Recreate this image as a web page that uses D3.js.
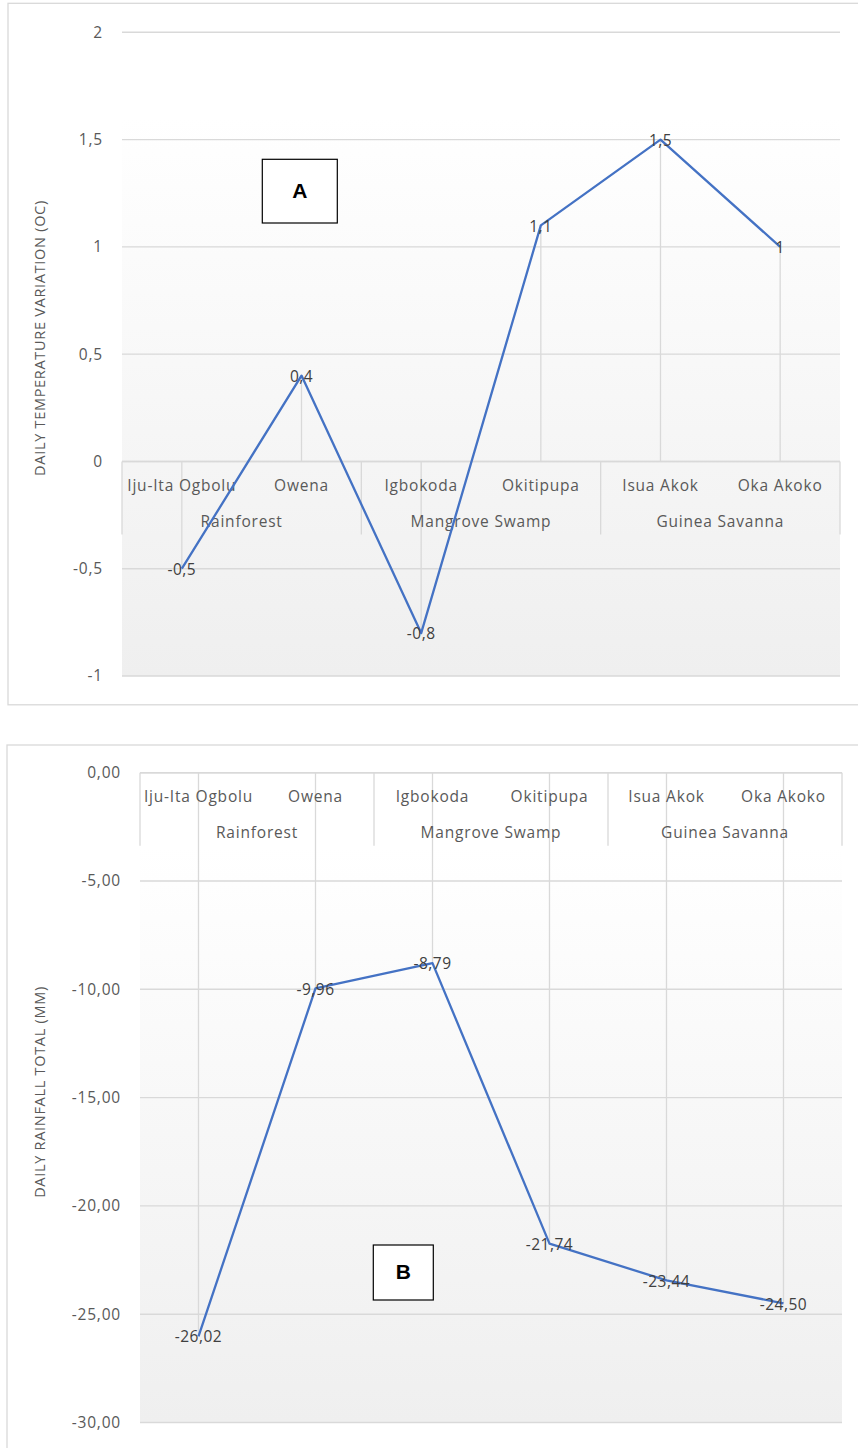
<!DOCTYPE html>
<html>
<head>
<meta charset="utf-8">
<script src="https://cdn.jsdelivr.net/npm/d3@7"></script>
<style>
  html, body { margin: 0; padding: 0; background: #ffffff; }
  svg { display: block; }
</style>
</head>
<body>
<svg id="chart" width="858" height="1448"></svg>
<script>
// ---------- DATA ----------
const categories = ["Iju-Ita Ogbolu", "Owena", "Igbokoda", "Okitipupa", "Isua Akok", "Oka Akoko"];
const groups = ["Rainforest", "Mangrove Swamp", "Guinea Savanna"];
const groupSizes = [2, 2, 2];

const tempValues = [-0.5, 0.4, -0.8, 1.1, 1.5, 1];
const tempTicks = [-1, -0.5, 0, 0.5, 1, 1.5, 2];
const tempTitle = "DAILY TEMPERATURE VARIATION (OC)";
const tempPanelLabel = "A";

const rainValues = [-26.02, -9.96, -8.79, -21.74, -23.44, -24.50];
const rainTicks = [0, -5, -10, -15, -20, -25, -30];
const rainTitle = "DAILY RAINFALL TOTAL (MM)";
const rainPanelLabel = "B";

// ---------- HELPERS ----------
const locale = d3.formatLocale({decimal: ",", thousands: ".", grouping: [3], currency: ["", ""], minus: "-"});
const fmtTemp = locale.format(".2~f");
const fmtRain = locale.format(".2f");

const svg = d3.select("#chart");
const defs = svg.append("defs");
const FONT = "'Open Sans', 'DejaVu Sans', sans-serif";
const GRID = "#d9d9d9";
const LINE = "#4472c4";
const LS = "0.8px";

function gradient(id) {
  const g = defs.append("linearGradient").attr("id", id)
    .attr("x1", 0).attr("y1", 0).attr("x2", 0).attr("y2", 1);
  g.append("stop").attr("offset", "0%").attr("stop-color", "#ffffff");
  g.append("stop").attr("offset", "100%").attr("stop-color", "#efefef");
}
gradient("gA");
gradient("gB");

function panel(cfg) {
  const g = svg.append("g");
  // outer chart border
  g.append("rect")
    .attr("x", cfg.border[0]).attr("y", cfg.border[1])
    .attr("width", cfg.border[2]).attr("height", cfg.border[3])
    .attr("fill", "none").attr("stroke", GRID).attr("stroke-width", 1.3);

  const x = d3.scaleBand().domain(categories).range([cfg.left, cfg.right]);
  const y = d3.scaleLinear().domain(cfg.domain).range([cfg.bottom, cfg.top]);
  const y0 = y(0);

  // plot background gradient
  g.append("rect")
    .attr("x", cfg.left).attr("y", cfg.gradTop)
    .attr("width", cfg.right - cfg.left).attr("height", y(cfg.domain[0]) - cfg.gradTop)
    .attr("fill", "url(#" + cfg.gradId + ")");

  // horizontal gridlines
  g.append("g").selectAll("line").data(cfg.ticks).join("line")
    .attr("x1", cfg.left).attr("x2", cfg.right)
    .attr("y1", d => y(d)).attr("y2", d => y(d))
    .attr("stroke", GRID).attr("stroke-width", 1.4);

  // y axis tick labels via d3 axis
  const axis = d3.axisLeft(y).tickValues(cfg.ticks).tickFormat(cfg.fmt).tickSize(0).tickPadding(19);
  const ag = g.append("g").attr("transform", `translate(${cfg.left},0)`).call(axis);
  ag.select(".domain").remove();
  ag.selectAll("text").attr("font-family", FONT).attr("font-size", 15.5)
    .attr("letter-spacing", LS).attr("fill", "#595959");

  // y axis title
  g.append("text")
    .attr("transform", `translate(${cfg.titleX},${cfg.titleY}) rotate(-90)`)
    .attr("text-anchor", "middle").attr("dominant-baseline", "middle")
    .attr("font-family", FONT).attr("font-size", 14.5).attr("letter-spacing", "0.7px")
    .attr("fill", "#595959")
    .text(cfg.title);

  const cx = d => x(d) + x.bandwidth() / 2;

  // drop lines from points to the category axis
  g.append("g").selectAll("line").data(cfg.values).join("line")
    .attr("x1", (d, i) => cx(categories[i])).attr("x2", (d, i) => cx(categories[i]))
    .attr("y1", d => y(d)).attr("y2", y0)
    .attr("stroke", GRID).attr("stroke-width", 1.3);

  // multi-level category axis box
  const boxH = 73;
  let start = 0;
  const bounds = [cfg.left];
  groupSizes.forEach(n => { start += n; bounds.push(x.range()[0] + start * x.step()); });
  g.append("g").selectAll("line").data(bounds).join("line")
    .attr("x1", d => d).attr("x2", d => d)
    .attr("y1", y0).attr("y2", y0 + boxH)
    .attr("stroke", GRID).attr("stroke-width", 1.3);
  g.append("line").attr("x1", cfg.left).attr("x2", cfg.right)
    .attr("y1", y0).attr("y2", y0).attr("stroke", GRID).attr("stroke-width", 1.4);

  g.append("g").selectAll("text").data(categories).join("text")
    .attr("x", d => cx(d)).attr("y", y0 + 25)
    .attr("text-anchor", "middle").attr("dominant-baseline", "middle")
    .attr("font-family", FONT).attr("font-size", 15.5).attr("letter-spacing", LS)
    .attr("fill", "#595959")
    .text(d => d);
  g.append("g").selectAll("text").data(groups).join("text")
    .attr("x", (d, i) => (bounds[i] + bounds[i + 1]) / 2).attr("y", y0 + 61)
    .attr("text-anchor", "middle").attr("dominant-baseline", "middle")
    .attr("font-family", FONT).attr("font-size", 15.5).attr("letter-spacing", LS)
    .attr("fill", "#595959")
    .text(d => d);

  // data line
  const line = d3.line().x((d, i) => cx(categories[i])).y(d => y(d));
  g.append("path").datum(cfg.values).attr("d", line)
    .attr("fill", "none").attr("stroke", LINE).attr("stroke-width", 2.3)
    .attr("stroke-linejoin", "round");

  // data labels
  g.append("g").selectAll("text").data(cfg.values).join("text")
    .attr("x", (d, i) => cx(categories[i])).attr("y", d => y(d) + 2)
    .attr("text-anchor", "middle").attr("dominant-baseline", "middle")
    .attr("font-family", FONT).attr("font-size", 15.5).attr("letter-spacing", "0.5px")
    .attr("fill", "#404040")
    .text(d => cfg.fmt(d));

  // panel letter box
  const b = cfg.box;
  g.append("rect").attr("x", b[0]).attr("y", b[1]).attr("width", b[2]).attr("height", b[3])
    .attr("fill", "#ffffff").attr("stroke", "#000000").attr("stroke-width", 1.2);
  g.append("text").attr("x", b[0] + b[2] / 2).attr("y", b[1] + b[3] / 2 + 1)
    .attr("text-anchor", "middle").attr("dominant-baseline", "middle")
    .attr("font-family", "'Liberation Sans', Arial, sans-serif").attr("font-weight", "bold")
    .attr("font-size", 21).attr("fill", "#000000")
    .text(cfg.panelLabel);
}

panel({
  border: [8, 3.3, 880, 701.5],
  left: 122, right: 840, top: 32.3, bottom: 676,
  domain: [-1, 2], ticks: tempTicks, values: tempValues, fmt: fmtTemp,
  gradTop: 117, gradId: "gA",
  title: tempTitle, titleX: 41, titleY: 338,
  box: [262.3, 159.3, 75, 63.7], panelLabel: tempPanelLabel
});

panel({
  border: [7, 745, 880, 760],
  left: 140, right: 842, top: 772.7, bottom: 1422.5,
  domain: [-30, 0], ticks: rainTicks, values: rainValues, fmt: fmtRain,
  gradTop: 846, gradId: "gB",
  title: rainTitle, titleX: 41, titleY: 1092,
  box: [373.3, 1245, 60, 55], panelLabel: rainPanelLabel
});
</script>
</body>
</html>
